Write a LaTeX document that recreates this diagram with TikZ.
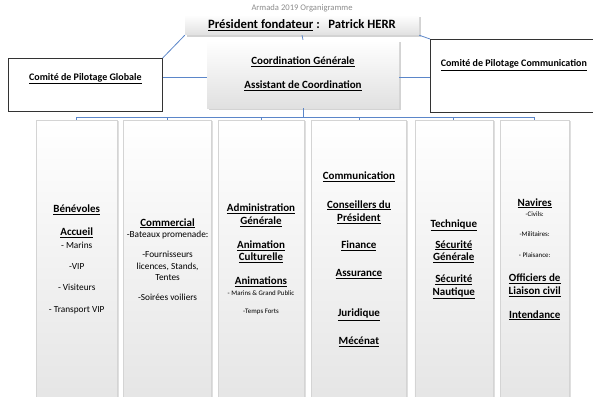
\documentclass[tikz,border=0pt]{standalone}
\usepackage{fontspec}
\setmainfont{Carlito}
\usepackage{tikz}
\usetikzlibrary{
	positioning,
	shadows
}
\definecolor{bleulien}{HTML}{5B86C9}
\definecolor{bordgris}{HTML}{D4D4D4}
\newcommand{\titre}[1]{{\fontsize{11}{11.5}\selectfont\bfseries\underline{#1}}}
\newcommand{\petit}[1]{{\fontsize{6.9}{11.5}\selectfont #1}}

\begin{document}
\begin{tikzpicture}[
			x=1pt, y=-1pt,
			haut/.style={inner sep=0pt, top color=white, bottom color=black!12, drop shadow={shadow xshift=1.8pt, shadow yshift=-1.8pt, opacity=.35}, align=center, font=\bfseries},
			comite/.style={draw=black!80, line width=0.7pt, fill=white, inner sep=0pt, anchor=north west, align=center, drop shadow={shadow xshift=1pt, shadow yshift=-1pt, opacity=.3}, font=\fontsize{10}{12}\selectfont\bfseries},
			pole/.style={draw=bordgris, inner sep=0pt, top color=white, bottom color=black!10, drop shadow={shadow xshift=1.8pt, shadow yshift=-1pt, opacity=.25}, minimum height=278pt, align=center, font=\fontsize{9.3}{11.5}\selectfont},
			lien/.style={draw=bleulien, line width=0.8pt}
		]
		\useasboundingbox (0,0) rectangle (593,396);

		\node[text=black!45, font=\fontsize{8.6}{10}\selectfont] (titre) at (302,8) {Armada 2019 Organigramme};
		\node[haut, minimum width=234pt, minimum height=20pt, font=\fontsize{12.7}{14}\selectfont\bfseries] (pres) at (302,25) {\underline{Président fondateur} :~~~Patrick HERR};
		\node[haut, minimum width=192pt, minimum height=68pt, font=\fontsize{11}{11.5}\selectfont\bfseries] (coord) at (303,74) {\underline{Coordination Générale}\\[12.5pt]\underline{Assistant de Coordination}};
		\node[comite, minimum width=154pt, text height=22pt, text depth=31pt] (glob) at (8,58) {\underline{Comité de Pilotage Globale}};
		\node[comite, minimum width=167pt, text height=27.5pt, text depth=45.5pt] (comm) at (430,39) {\underline{Comité de Pilotage Communication}};

		\node[pole, minimum width=81pt, anchor=north west] (p1) at (36,120) {\titre{Bénévoles}\\[12pt]\titre{Accueil}\\[1pt]- Marins\\[9.5pt]-VIP\\[10pt]- Visiteurs\\[10pt]- Transport VIP};
		\node[pole, minimum width=88pt, right=6pt of p1] (p2) {\titre{Commercial}\\[0pt]-Bateaux promenade:\\[8.5pt]-Fournisseurs\\licences, Stands,\\Tentes\\[8pt]-Soirées voiliers};
		\node[pole, minimum width=86pt, right=6pt of p2] (p3) {\titre{Administration}\\[1.2pt]\titre{Générale}\\[12.5pt]\titre{Animation}\\[0.5pt]\titre{Culturelle}\\[13pt]\titre{Animations}\\[-0.5pt]\petit{- Marins \& Grand Public}\\[6pt]\petit{-Temps Forts}};
		\node[pole, minimum width=95pt, right=7pt of p3] (p4) {\titre{Communication}\\[17pt]\titre{Conseillers du}\\[1.8pt]\titre{Président}\\[16pt]\titre{Finance}\\[16pt]\titre{Assurance}\\[29pt]\titre{Juridique}\\[16pt]\titre{Mécénat}};
		\node[pole, minimum width=78pt, right=8pt of p4] (p5) {\titre{Technique}\\[9.5pt]\titre{Sécurité}\\[0.8pt]\titre{Générale}\\[11pt]\titre{Sécurité}\\[1pt]\titre{Nautique}};
		\node[pole, minimum width=69pt, right=7pt of p5] (p6) {\titre{Navires}\\[-1.5pt]\petit{-Civils:}\\[9pt]\petit{-Militaires:}\\[9pt]\petit{- Plaisance:}\\[12.8pt]\titre{Officiers de}\\[1.9pt]\titre{Liaison civil}\\[11.8pt]\titre{Intendance}};

		\coordinate (g1) at ([yshift=-3.5pt]coord.west);
		\coordinate (g2) at ([yshift=-3.5pt]coord.east);
		\coordinate[below=9pt of coord.south] (bus);

		\draw[lien] (pres.south west) -- (glob.north east);
		\draw[lien] (pres.south east) -- (comm.north west);
		\draw[lien] (pres.south) -- (coord.north);
		\draw[lien] (g1) -- (g1 -| glob.east);
		\draw[lien] (g2) -- (g2 -| comm.west);
		\draw[lien] (coord.south) -- (bus);
		\foreach \i in {1,...,6}
			\draw[lien] (bus) -| (p\i.north);
	\end{tikzpicture}
\end{document}
